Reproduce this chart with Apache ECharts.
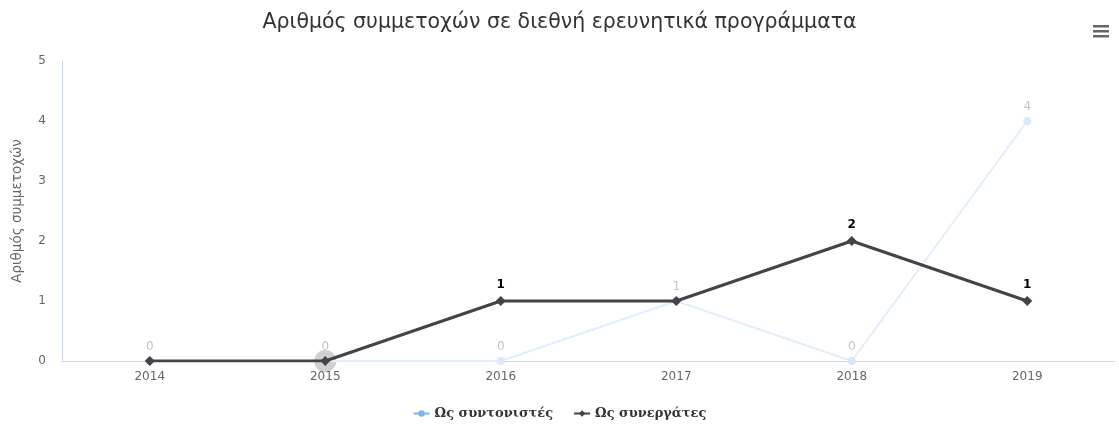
<!DOCTYPE html>
<html><head><meta charset="utf-8">
<script src="https://cdn.jsdelivr.net/npm/echarts@6/dist/echarts.min.js"></script>
<style>html,body{margin:0;padding:0;background:#fff}#c{width:1119px;height:425px}</style>
</head><body><div id="c"></div>
<script>
const categories = ['2014','2015','2016','2017','2018','2019'];
const coordinators = [0,0,0,1,0,4];
const collaborators = [0,0,1,1,2,1];
const yTicks = [0,1,2,3,4,5];
const titleText = 'Αριθμός συμμετοχών σε διεθνή ερευνητικά προγράμματα';
const yTitle = 'Αριθμός συμμετοχών';
const names = ['Ως συντονιστές','Ως συνεργάτες'];

const chart = echarts.init(document.getElementById('c'));
const font = "'DejaVu Sans', sans-serif";
// dark labels hidden where they would overlap the light series label (same value)
const collabData = collaborators.map((v,i)=>({value:v,label:{show:v!==coordinators[i]}}));
chart.setOption({
  animation:false,
  title:{text:titleText,left:'center',top:7,textStyle:{fontFamily:font,fontSize:20.5,fontWeight:'normal',color:'#333'}},
  grid:{left:62,right:4,top:61,bottom:64,containLabel:false},
  legend:{bottom:0,left:'center',itemWidth:16,itemHeight:8,itemGap:20,
    textStyle:{fontFamily:"'DejaVu Serif', serif",fontWeight:'bold',fontSize:13,color:'#333'},
    data:[{name:names[0],itemStyle:{color:'#7cb5ec',opacity:1},lineStyle:{color:'#7cb5ec',opacity:1}},
          {name:names[1]}]},
  xAxis:{type:'category',data:categories,boundaryGap:true,
    axisLine:{lineStyle:{color:'#ccd6eb'}},axisTick:{show:false},
    axisLabel:{fontFamily:font,fontSize:12,color:'#666',margin:10}},
  yAxis:{type:'value',min:yTicks[0],max:yTicks[yTicks.length-1],interval:1,
    name:yTitle,nameLocation:'middle',nameGap:38,nameTextStyle:{fontFamily:font,fontSize:13.5,color:'#666'},
    axisLine:{show:true,lineStyle:{color:'#ccd6eb'}},axisTick:{show:false},splitLine:{show:false},
    axisLabel:{fontFamily:font,fontSize:12,color:'#666',margin:16}},
  series:[
    {name:names[0],type:'line',data:coordinators,symbol:'circle',symbolSize:8,
     itemStyle:{color:'#d9e8f8'},lineStyle:{color:'#e2eefa',width:2},
     label:{show:true,position:'top',distance:4,color:'#c4c4c4',fontFamily:font,fontSize:12},z:2},
    {name:names[1],type:'line',data:collabData,symbol:'diamond',symbolSize:10,
     itemStyle:{color:'#434348'},lineStyle:{color:'#434348',width:3},
     label:{position:'top',distance:5,color:'#000',fontWeight:'bold',fontFamily:font,fontSize:12,textBorderColor:'#fff',textBorderWidth:2},
     markPoint:{symbol:'circle',symbolSize:22,data:[{coord:[categories[1],collaborators[1]]}],
       itemStyle:{color:'rgba(67,67,72,0.25)'},label:{show:false},z:1},z:3}
  ],
  graphic:[
    {type:'rect',shape:{x:1093,y:25,width:16,height:2.5},style:{fill:'#666'}},
    {type:'rect',shape:{x:1093,y:30,width:16,height:2.5},style:{fill:'#666'}},
    {type:'rect',shape:{x:1093,y:35,width:16,height:2.5},style:{fill:'#666'}}
  ]
});
</script></body></html>
